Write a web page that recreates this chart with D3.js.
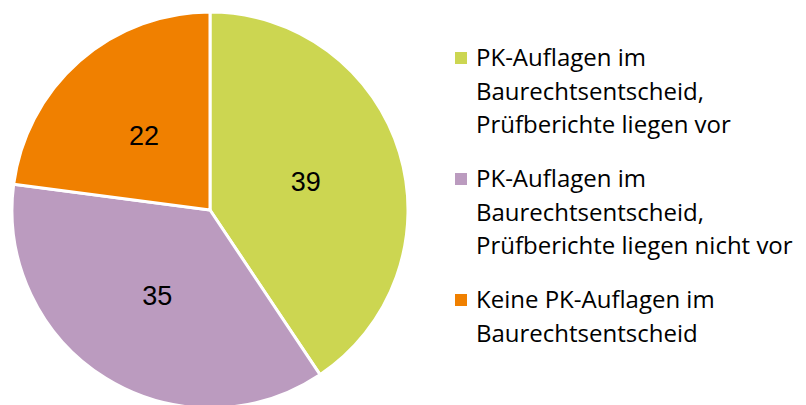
<!DOCTYPE html>
<html>
<head>
<meta charset="utf-8">
<script src="https://cdn.jsdelivr.net/npm/d3@7"></script>
<style>
  body { margin: 0; background: #fff; }
  svg { display: block; }
</style>
</head>
<body>
<svg width="806" height="405"></svg>
<script>
const categories = [
  ["PK-Auflagen im", "Baurechtsentscheid,", "Prüfberichte liegen vor"],
  ["PK-Auflagen im", "Baurechtsentscheid,", "Prüfberichte liegen nicht vor"],
  ["Keine PK-Auflagen im", "Baurechtsentscheid"]
];
const values = [39, 35, 22];
const colors = ["#CCD651", "#BB9BBF", "#F08000"];

const svg = d3.select("svg");
const cx = 210, cy = 210, radius = 198;

const pie = d3.pie().sort(null).value(d => d);
const arc = d3.arc().innerRadius(0).outerRadius(radius);
const labelArc = d3.arc().innerRadius(100).outerRadius(100);

const g = svg.append("g").attr("transform", `translate(${cx},${cy})`);
const arcs = pie(values);

g.selectAll("path")
  .data(arcs)
  .enter()
  .append("path")
  .attr("d", arc)
  .attr("fill", (d, i) => colors[i])
  .attr("stroke", "#fff")
  .attr("stroke-width", 3)
  .attr("stroke-linejoin", "round");

g.selectAll("text.val")
  .data(arcs)
  .enter()
  .append("text")
  .attr("class", "val")
  .attr("transform", d => `translate(${labelArc.centroid(d)})`)
  .attr("text-anchor", "middle")
  .attr("dy", "0.36em")
  .style("font-family", "'Liberation Sans', Arial, sans-serif")
  .style("font-size", "27px")
  .text(d => d.data);

// legend
const legendBase = [66, 187, 308];
const lineH = 33.5;
const legend = svg.append("g");

categories.forEach((lines, i) => {
  const y0 = legendBase[i];
  legend.append("rect")
    .attr("x", 455)
    .attr("y", y0 - 14)
    .attr("width", 12)
    .attr("height", 12)
    .attr("fill", colors[i]);
  lines.forEach((ln, j) => {
    legend.append("text")
      .attr("x", 476)
      .attr("y", y0 + j * lineH)
      .style("font-family", "'Open Sans', 'Noto Sans', sans-serif")
      .style("font-size", "24px")
      .attr("fill", "#000")
      .text(ln);
  });
});
</script>
</body>
</html>
